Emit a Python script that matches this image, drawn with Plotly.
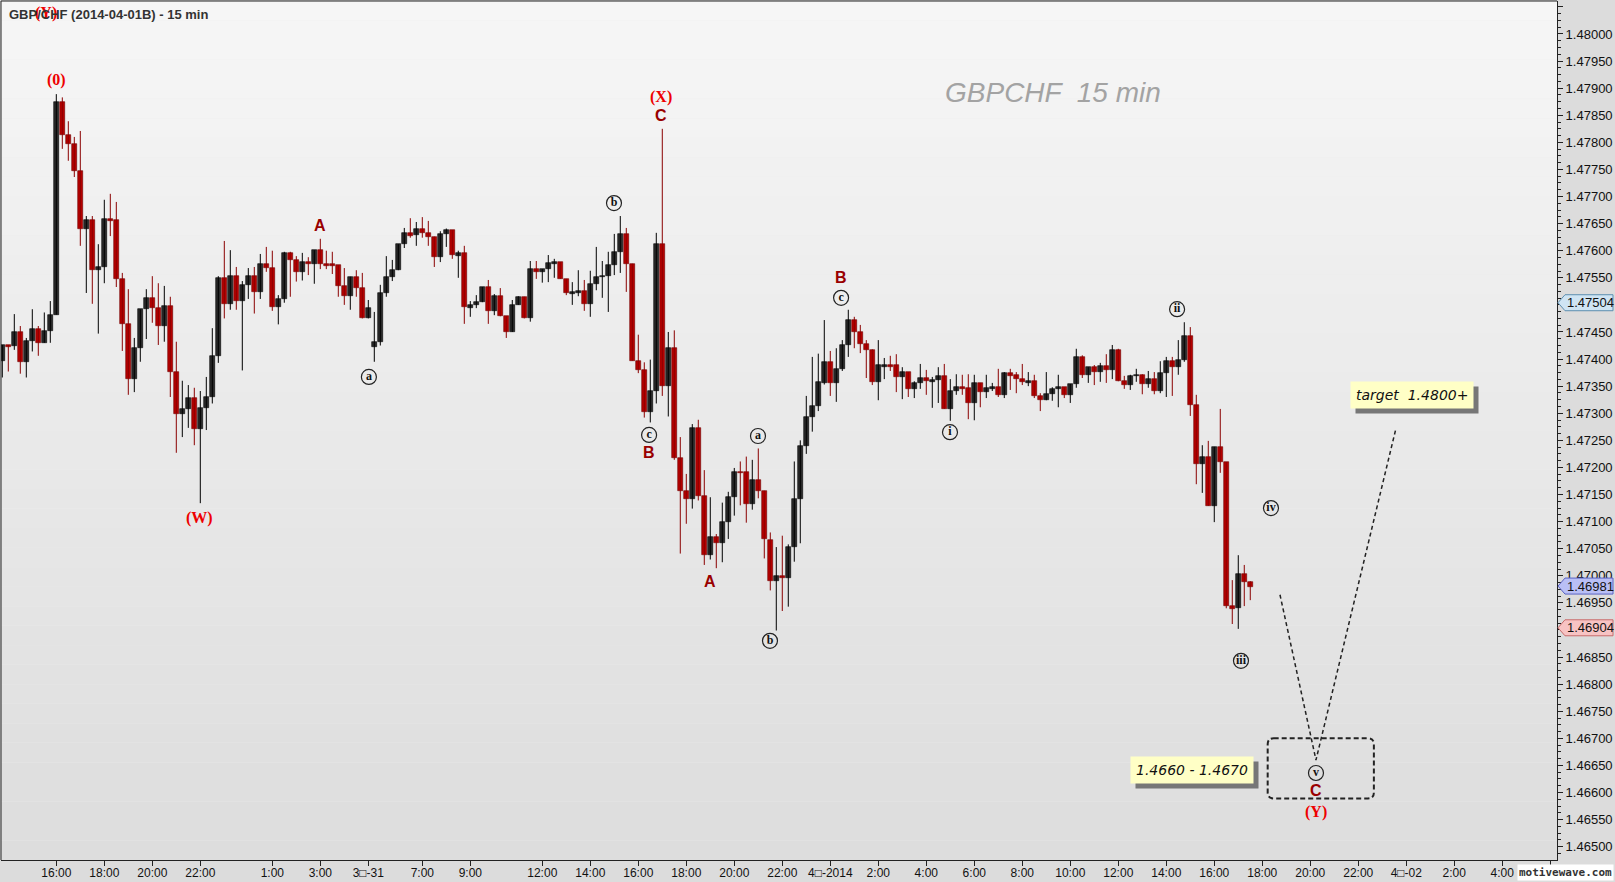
import plotly.graph_objects as go

# ---------------- data: 15-minute GBP/CHF bars (bar index order) ----------------
open_p = [
1.47396,1.47426,1.47425,1.47450,1.47395,1.47433,1.47456,1.47430,1.47452,1.47482,
1.47874,1.47814,1.47797,1.47747,1.47640,1.47657,1.47564,1.47570,1.47659,1.47657,
1.47548,1.47465,1.47363,1.47420,1.47492,1.47513,1.47494,1.47461,1.47498,1.47377,
1.47299,1.47308,1.47328,1.47271,1.47310,1.47330,1.47406,1.47550,1.47502,1.47553,
1.47508,1.47537,1.47553,1.47524,1.47575,1.47569,1.47497,1.47511,1.47596,1.47582,
1.47561,1.47579,1.47575,1.47601,1.47575,1.47575,1.47573,1.47534,1.47517,1.47552,
1.47532,1.47475,1.47423,1.47432,1.47522,1.47552,1.47564,1.47612,1.47633,1.47629,
1.47640,1.47633,1.47626,1.47589,1.47631,1.47638,1.47591,1.47596,1.47495,1.47500,
1.47505,1.47533,1.47489,1.47516,1.47479,1.47450,1.47500,1.47515,1.47475,1.47566,
1.47561,1.47566,1.47576,1.47579,1.47548,1.47521,1.47522,1.47526,1.47502,1.47539,
1.47551,1.47554,1.47574,1.47598,1.47631,1.47576,1.47397,1.47379,1.47303,1.47341,
1.47612,1.47350,1.47420,1.47218,1.47157,1.47141,1.47273,1.47148,1.47039,1.47071,
1.47061,1.47099,1.47145,1.47191,1.47191,1.47133,1.47177,1.47157,1.47066,1.46991,
1.46999,1.46996,1.47053,1.47141,1.47239,1.47293,1.47313,1.47355,1.47395,1.47356,
1.47382,1.47426,1.47472,1.47450,1.47428,1.47417,1.47358,1.47386,1.47389,1.47389,
1.47367,1.47376,1.47345,1.47356,1.47365,1.47358,1.47361,1.47369,1.47308,1.47341,
1.47348,1.47346,1.47319,1.47356,1.47339,1.47345,1.47348,1.47334,1.47374,1.47370,
1.47363,1.47356,1.47360,1.47332,1.47324,1.47335,1.47344,1.47348,1.47334,1.47354,
1.47404,1.47371,1.47385,1.47376,1.47387,1.47380,1.47417,1.47359,1.47352,1.47368,
1.47371,1.47354,1.47363,1.47341,1.47374,1.47396,1.47385,1.47398,1.47442,1.47315,
1.47206,1.47219,1.47129,1.47238,1.47210,1.46944,1.46940,1.47003,1.46988]
high_p = [
1.47426,1.47426,1.47483,1.47461,1.47439,1.47492,1.47461,1.47486,1.47507,1.47889,
1.47883,1.47839,1.47810,1.47821,1.47664,1.47664,1.47612,1.47694,1.47705,1.47690,
1.47559,1.47529,1.47439,1.47492,1.47529,1.47553,1.47540,1.47535,1.47515,1.47432,
1.47360,1.47352,1.47347,1.47341,1.47367,1.47457,1.47553,1.47618,1.47601,1.47570,
1.47544,1.47568,1.47570,1.47594,1.47607,1.47600,1.47518,1.47598,1.47598,1.47590,
1.47596,1.47588,1.47601,1.47622,1.47600,1.47598,1.47573,1.47568,1.47552,1.47564,
1.47559,1.47509,1.47487,1.47537,1.47590,1.47583,1.47612,1.47642,1.47660,1.47653,
1.47662,1.47655,1.47626,1.47636,1.47641,1.47638,1.47600,1.47609,1.47507,1.47518,
1.47533,1.47546,1.47520,1.47531,1.47479,1.47509,1.47516,1.47515,1.47581,1.47581,
1.47566,1.47592,1.47585,1.47579,1.47548,1.47542,1.47564,1.47546,1.47563,1.47607,
1.47581,1.47598,1.47631,1.47664,1.47642,1.47576,1.47445,1.47394,1.47399,1.47633,
1.47825,1.47450,1.47453,1.47256,1.47188,1.47280,1.47288,1.47195,1.47145,1.47077,
1.47135,1.47155,1.47199,1.47211,1.47220,1.47214,1.47235,1.47157,1.47080,1.47053,
1.47074,1.47058,1.47211,1.47250,1.47332,1.47404,1.47410,1.47472,1.47415,1.47420,
1.47435,1.47491,1.47478,1.47463,1.47435,1.47418,1.47435,1.47402,1.47406,1.47409,
1.47385,1.47376,1.47359,1.47391,1.47380,1.47367,1.47385,1.47391,1.47363,1.47372,
1.47371,1.47372,1.47371,1.47356,1.47371,1.47356,1.47382,1.47376,1.47382,1.47376,
1.47391,1.47376,1.47371,1.47337,1.47376,1.47348,1.47371,1.47348,1.47354,1.47419,
1.47407,1.47385,1.47389,1.47393,1.47409,1.47426,1.47419,1.47369,1.47371,1.47382,
1.47372,1.47378,1.47376,1.47396,1.47404,1.47404,1.47435,1.47468,1.47459,1.47334,
1.47241,1.47249,1.47238,1.47308,1.47210,1.46992,1.47038,1.47020,1.46990]
low_p = [
1.47366,1.47377,1.47417,1.47373,1.47366,1.47414,1.47406,1.47430,1.47430,1.47482,
1.47788,1.47766,1.47736,1.47609,1.47522,1.47502,1.47447,1.47540,1.47627,1.47533,
1.47415,1.47334,1.47339,1.47395,1.47437,1.47467,1.47426,1.47432,1.47330,1.47227,
1.47256,1.47273,1.47241,1.47134,1.47269,1.47318,1.47393,1.47475,1.47491,1.47491,
1.47379,1.47511,1.47484,1.47511,1.47561,1.47489,1.47464,1.47504,1.47515,1.47543,
1.47545,1.47555,1.47539,1.47566,1.47566,1.47557,1.47515,1.47500,1.47491,1.47515,
1.47475,1.47475,1.47395,1.47425,1.47515,1.47544,1.47564,1.47605,1.47624,1.47609,
1.47624,1.47609,1.47570,1.47579,1.47607,1.47585,1.47550,1.47465,1.47478,1.47494,
1.47505,1.47465,1.47481,1.47479,1.47439,1.47450,1.47500,1.47475,1.47469,1.47548,
1.47541,1.47542,1.47550,1.47548,1.47518,1.47500,1.47516,1.47489,1.47478,1.47527,
1.47513,1.47487,1.47555,1.47559,1.47524,1.47397,1.47374,1.47292,1.47283,1.47318,
1.47332,1.47294,1.47214,1.47041,1.47096,1.47124,1.47139,1.47020,1.47030,1.47014,
1.47025,1.47068,1.47111,1.47130,1.47098,1.47122,1.47143,1.47032,1.46973,1.46899,
1.46935,1.46943,1.47026,1.47060,1.47225,1.47266,1.47304,1.47353,1.47332,1.47321,
1.47378,1.47404,1.47420,1.47411,1.47365,1.47352,1.47324,1.47363,1.47378,1.47339,
1.47326,1.47330,1.47328,1.47345,1.47334,1.47310,1.47319,1.47308,1.47286,1.47334,
1.47334,1.47289,1.47287,1.47311,1.47328,1.47341,1.47330,1.47328,1.47343,1.47337,
1.47352,1.47350,1.47328,1.47304,1.47324,1.47323,1.47311,1.47328,1.47319,1.47347,
1.47365,1.47356,1.47352,1.47358,1.47356,1.47363,1.47359,1.47345,1.47343,1.47358,
1.47335,1.47347,1.47335,1.47337,1.47330,1.47332,1.47371,1.47395,1.47295,1.47169,
1.47153,1.47129,1.47099,1.47190,1.46940,1.46911,1.46902,1.46944,1.46955]
close_p = [
1.47426,1.47423,1.47450,1.47395,1.47433,1.47456,1.47430,1.47452,1.47482,1.47874,
1.47814,1.47797,1.47747,1.47640,1.47657,1.47564,1.47570,1.47659,1.47655,1.47548,
1.47465,1.47363,1.47420,1.47492,1.47513,1.47494,1.47461,1.47498,1.47377,1.47299,
1.47308,1.47328,1.47271,1.47310,1.47330,1.47406,1.47550,1.47502,1.47553,1.47508,
1.47537,1.47553,1.47524,1.47575,1.47569,1.47497,1.47511,1.47596,1.47582,1.47561,
1.47579,1.47575,1.47601,1.47575,1.47572,1.47572,1.47534,1.47517,1.47552,1.47532,
1.47475,1.47494,1.47432,1.47522,1.47552,1.47564,1.47612,1.47633,1.47628,1.47640,
1.47633,1.47626,1.47589,1.47631,1.47638,1.47592,1.47596,1.47497,1.47500,1.47505,
1.47533,1.47489,1.47516,1.47479,1.47450,1.47500,1.47515,1.47475,1.47566,1.47561,
1.47566,1.47577,1.47579,1.47548,1.47522,1.47524,1.47526,1.47502,1.47539,1.47551,
1.47554,1.47574,1.47598,1.47631,1.47576,1.47397,1.47379,1.47303,1.47341,1.47612,
1.47350,1.47420,1.47218,1.47157,1.47141,1.47273,1.47148,1.47039,1.47071,1.47061,
1.47099,1.47145,1.47191,1.47190,1.47133,1.47177,1.47157,1.47067,1.46991,1.46999,
1.46996,1.47053,1.47141,1.47239,1.47293,1.47313,1.47357,1.47395,1.47356,1.47382,
1.47426,1.47472,1.47450,1.47428,1.47417,1.47358,1.47389,1.47389,1.47385,1.47367,
1.47376,1.47345,1.47356,1.47365,1.47359,1.47361,1.47369,1.47308,1.47341,1.47348,
1.47345,1.47319,1.47356,1.47339,1.47347,1.47348,1.47334,1.47374,1.47369,1.47363,
1.47358,1.47360,1.47332,1.47324,1.47335,1.47345,1.47348,1.47334,1.47354,1.47404,
1.47371,1.47385,1.47376,1.47387,1.47380,1.47417,1.47359,1.47352,1.47369,1.47371,
1.47354,1.47363,1.47341,1.47374,1.47396,1.47385,1.47398,1.47442,1.47315,1.47206,
1.47219,1.47129,1.47238,1.47210,1.46944,1.46939,1.47003,1.46988,1.46979]

# time-axis labels at bar indexes
tick_index = [9, 17, 25, 33, 45, 53, 61, 70, 78, 90, 98, 106, 114, 122, 130, 138,
              146, 154, 162, 170, 178, 186, 194, 202, 210, 218, 226, 234, 242, 250, 258]
tick_text = ["16:00", "18:00", "20:00", "22:00", "1:00", "3:00", "3\u25a1-31", "7:00", "9:00",
             "12:00", "14:00", "16:00", "18:00", "20:00", "22:00", "4\u25a1-2014", "2:00", "4:00",
             "6:00", "8:00", "10:00", "12:00", "14:00", "16:00", "18:00", "20:00", "22:00",
             "4\u25a1-02", "2:00", "4:00", ""]

# Elliott wave labels (bar index, price)
red_labels = ["(Y)", "(0)", "(W)", "(X)", "(Y)"]
red_x = [7.3, 9, 32.8, 109.8, 218.95]
red_y = [1.48039, 1.47915, 1.47107, 1.47884, 1.46564]

abc_labels = ["A", "C", "B", "A", "B", "C"]
abc_x = [52.95, 109.8, 107.8, 117.95, 139.8, 218.95]
abc_y = [1.47647, 1.47850, 1.47228, 1.46990, 1.47550, 1.46603]

circ_labels = ["a", "b", "c", "a", "b", "c", "i", "ii", "iii", "iv", "v"]
circ_x = [61.1, 101.95, 107.8, 125.95, 127.95, 139.8, 157.95, 195.8, 206.45, 211.45, 218.95]
circ_y = [1.47367, 1.47688, 1.47260, 1.47258, 1.46880, 1.47513, 1.47265, 1.47492, 1.46843, 1.47125, 1.46636]

# projected path and target zone
proj_x = [212.95, 218.95, 232.3]
proj_y = [1.46965, 1.46660, 1.47273]
zone_x = [210.9, 228.6]
zone_y = [1.46589, 1.46700]
zone_text = "1.4660 - 1.4670"
zone_text_pos = [198.3, 1.46642]
target_text = "target  1.4800+"
target_text_pos = [234.95, 1.47333]

# right-axis price markers
marker_prices = [1.47504, 1.46981, 1.46904]
marker_fill = ["#cfe4f3", "#b9bff5", "#f7c3c3"]
marker_line = ["#5d8fb0", "#5b63c4", "#c86a6a"]

# ---------------- figure ----------------
n = len(close_p)
idx = list(range(n))
up = [i for i in idx if close_p[i] >= open_p[i]]
dn = [i for i in idx if close_p[i] < open_p[i]]

fig = go.Figure()

def wicks(ids):
    xs, ys = [], []
    for i in ids:
        xs += [i, i, None]
        ys += [low_p[i], high_p[i], None]
    return xs, ys

for ids, col in ((up, "#000000"), (dn, "#8a0000")):
    wx, wy = wicks(ids)
    fig.add_trace(go.Scatter(x=wx, y=wy, mode="lines", line=dict(color=col, width=1),
                             hoverinfo="skip", showlegend=False))

MINH = 0.000022
for ids, fill, edge in ((up, "#2a2a2a", "#000000"), (dn, "#b50000", "#700000")):
    fig.add_trace(go.Bar(
        x=ids,
        base=[min(open_p[i], close_p[i]) for i in ids],
        y=[max(abs(close_p[i] - open_p[i]), MINH) for i in ids],
        width=0.78, marker=dict(color=fill, line=dict(color=edge, width=0.6)),
        showlegend=False, hoverinfo="skip"))

# projection dashed line
fig.add_trace(go.Scatter(x=proj_x, y=proj_y, mode="lines",
                         line=dict(color="#222222", width=1.5, dash="4px,3px"),
                         hoverinfo="skip", showlegend=False))

# circled labels
fig.add_trace(go.Scatter(x=circ_x, y=circ_y, mode="markers+text", text=circ_labels,
                         textposition="middle center",
                         textfont=dict(family="Liberation Serif", size=12, color="#111111", weight="bold"),
                         marker=dict(symbol="circle", size=15, color="rgba(255,255,255,0)",
                                     line=dict(color="#222222", width=1.2)),
                         hoverinfo="skip", showlegend=False))

ann = []
for t, x, y in zip(red_labels, red_x, red_y):
    ann.append(dict(x=x, y=y, xref="x", yref="y", text="<b>%s</b>" % t, showarrow=False,
                    font=dict(family="Liberation Serif", size=16, color="#ee0000")))
for t, x, y in zip(abc_labels, abc_x, abc_y):
    ann.append(dict(x=x, y=y, xref="x", yref="y", text="<b>%s</b>" % t, showarrow=False,
                    font=dict(family="Liberation Sans", size=16, color="#990000")))

# yellow note boxes with shadows
for txt, (bx, by) in ((zone_text, zone_text_pos), (target_text, target_text_pos)):
    ann.append(dict(x=bx, y=by, xref="x", yref="y", text="<i>%s</i>" % txt, showarrow=False,
                    font=dict(family="DejaVu Sans", size=14, color="#777777"),
                    bgcolor="#777777", borderpad=5, xshift=5, yshift=-5))
    ann.append(dict(x=bx, y=by, xref="x", yref="y", text="<i>%s</i>" % txt, showarrow=False,
                    font=dict(family="DejaVu Sans", size=14, color="#111111"),
                    bgcolor="#ffffc6", borderpad=5))

# title and watermark
ann.append(dict(x=0, y=1, xref="paper", yref="paper", xanchor="left", yanchor="top",
                xshift=6, yshift=-4, showarrow=False,
                text="<b>GBP/CHF (2014-04-01B) - 15 min</b>",
                font=dict(family="Liberation Sans", size=13, color="#333333")))
ann.append(dict(x=0.676, y=0.894, xref="paper", yref="paper", xanchor="center", yanchor="middle",
                showarrow=False, text="<i>GBPCHF  15 min</i>",
                font=dict(family="Liberation Sans", size=28, color="#a3a3a3")))
ann.append(dict(x=1, y=0, xref="paper", yref="paper", xanchor="right", yanchor="bottom",
                xshift=57, yshift=-21, showarrow=False, text="<b>motivewave.com</b>",
                bgcolor="#ffffff", borderpad=1,
                font=dict(family="DejaVu Sans Mono", size=11, color="#333333")))

# price markers on the right axis
shapes = []
for p, f, l in zip(marker_prices, marker_fill, marker_line):
    shapes.append(dict(type="path", xref="paper", yref="y", xsizemode="pixel", ysizemode="pixel",
                       xanchor=1, yanchor=p,
                       path="M 1,0 L 8,8 L 56,8 L 56,-8 L 8,-8 Z",
                       fillcolor=f, line=dict(color=l, width=1), layer="above"))
    ann.append(dict(x=1, y=p, xref="paper", yref="y", xanchor="left", xshift=8, showarrow=False,
                    text="%.5f" % p, font=dict(family="Liberation Sans", size=13, color="#111111")))

# background gradient
bands = 44
for b in range(bands):
    frac = b / (bands - 1)
    v = int(round(221 + (246 - 221) * frac))
    shapes.append(dict(type="rect", xref="paper", yref="paper", x0=0, x1=1,
                       y0=b / bands, y1=(b + 1) / bands, fillcolor="rgb(%d,%d,%d)" % (v, v, v),
                       line=dict(width=0), layer="below"))

# target zone dashed rounded rectangle
x0, x1 = zone_x
y0, y1 = zone_y
rx, ry = 1.0, 0.00011
zone_path = ("M %f,%f L %f,%f Q %f,%f %f,%f L %f,%f Q %f,%f %f,%f L %f,%f Q %f,%f %f,%f "
             "L %f,%f Q %f,%f %f,%f Z") % (
    x0 + rx, y1, x1 - rx, y1, x1, y1, x1, y1 - ry, x1, y0 + ry, x1, y0, x1 - rx, y0,
    x0 + rx, y0, x0, y0, x0, y0 + ry, x0, y1 - ry, x0, y1, x0 + rx, y1)
shapes.append(dict(type="path", xref="x", yref="y", path=zone_path,
                   line=dict(color="#222222", width=2, dash="5px,3px")))

# frame lines
shapes.append(dict(type="line", xref="paper", yref="paper", x0=0, x1=1, y0=1, y1=1,
                   line=dict(color="#222222", width=1)))
shapes.append(dict(type="line", xref="paper", yref="paper", x0=0, x1=0, y0=0, y1=1,
                   line=dict(color="#222222", width=1)))

fig.update_layout(
    width=1615, height=882,
    margin=dict(l=1, r=58, t=1, b=22),
    paper_bgcolor="#dcdcdc", plot_bgcolor="#ececec",
    barmode="overlay", bargap=0,
    showlegend=False,
    annotations=ann, shapes=shapes,
    xaxis=dict(range=[-0.217, 259.12], tickmode="array", tickvals=tick_index, ticktext=tick_text,
               ticks="outside", ticklen=5, tickcolor="#222222", showgrid=False, zeroline=False,
               showline=True, linecolor="#222222", linewidth=1, automargin=False,
               ticklabelstandoff=-3,
               tickfont=dict(family="Liberation Sans Narrow, Liberation Sans", size=12, color="#111111")),
    yaxis=dict(side="right", range=[1.464754, 1.480609], tick0=1.465, dtick=0.0005,
               tickformat=".5f", ticks="outside", ticklen=5, tickcolor="#222222", automargin=False,
               showgrid=False, zeroline=False, showline=True, linecolor="#222222", linewidth=1,
               minor=dict(dtick=0.000125, ticklen=3, ticks="outside", tickcolor="#222222"),
               tickfont=dict(family="Liberation Sans", size=13, color="#111111")),
)

fig.write_html("out.html", config={"displayModeBar": False},
               post_script="document.body.style.margin='0';document.body.style.overflow='hidden';")
